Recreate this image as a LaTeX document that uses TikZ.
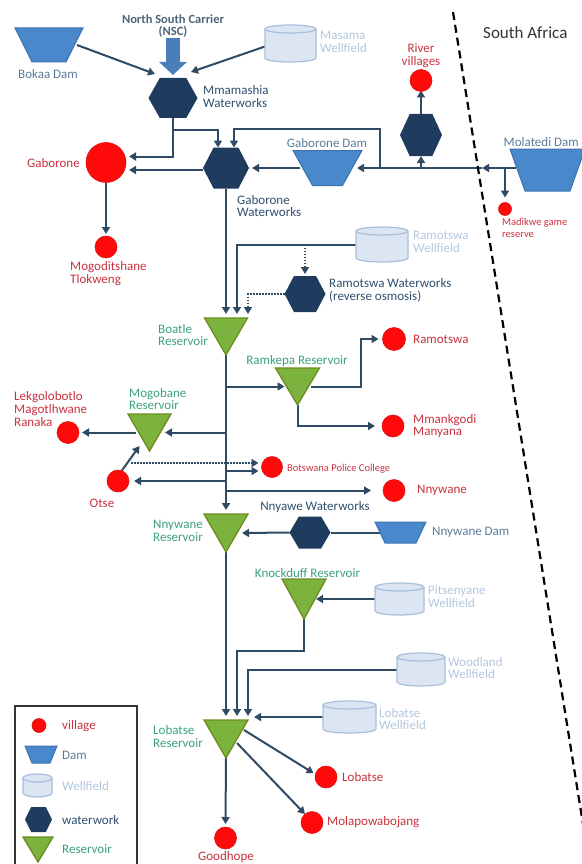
\documentclass[tikz,border=0pt]{standalone}
\usepackage{fontspec}
\setmainfont{Carlito}
\usetikzlibrary{arrows.meta}
\definecolor{vred}{HTML}{FF0A0A}
\definecolor{vredd}{HTML}{E01010}
\definecolor{redtxt}{HTML}{C8323F}
\definecolor{damfill}{HTML}{4A88CC}
\definecolor{damedge}{HTML}{3D72B0}
\definecolor{damtxt}{HTML}{5B7B9A}
\definecolor{wffill}{HTML}{DCE6F2}
\definecolor{wfedge}{HTML}{A7BFDB}
\definecolor{wftxt}{HTML}{B2C6DF}
\definecolor{hexfill}{HTML}{1F3B5E}
\definecolor{wwtxt}{HTML}{2F4F70}
\definecolor{resfill}{HTML}{7BB33E}
\definecolor{resedge}{HTML}{6E8C1E}
\definecolor{restxt}{HTML}{3BA27A}
\definecolor{conncol}{HTML}{2F4A63}
\definecolor{nscblue}{HTML}{4A7EB8}
\definecolor{nsctxt}{HTML}{4E6378}
\definecolor{satxt}{HTML}{333333}
\pgfdeclarelayer{back}
\pgfsetlayers{back,main}
\tikzset{
  ghost/.style={rectangle, inner sep=0pt, outer sep=0pt, draw=none, fill=none},
  village/.style={circle, inner sep=0pt, outer sep=0pt, fill=vred, draw=vredd, line width=0.6pt},
  damsty/.style={fill=damfill, draw=damedge, line width=1pt},
  wfsty/.style={fill=wffill, draw=wfedge, line width=1.2pt},
  hexsty/.style={fill=hexfill},
  ressty/.style={fill=resfill, draw=resedge, line width=1.3pt, line join=miter},
  conn/.style={draw=conncol, line width=2pt, -{Triangle[length=7pt,width=8pt]}},
  pipe/.style={draw=conncol, line width=2pt},
  dotconn/.style={draw=conncol, line width=1.6pt, dash pattern=on 1.5pt off 1.5pt, -{Triangle[length=7pt,width=8pt]}},
  lbl/.style={inner sep=0pt, font=\fontsize{13}{12.8}\selectfont},
  redl/.style={lbl, text=redtxt},
  daml/.style={lbl, text=damtxt},
  wfl/.style={lbl, text=wftxt},
  wwl/.style={lbl, text=wwtxt},
  resl/.style={lbl, text=restxt},
}
\newcommand{\mkdam}[6]{%
  \node[ghost, minimum width=#4pt, minimum height=#6pt] (#1) at (#2,#3) {};
  \pgfmathsetmacro{\dinset}{(#4-#5)/2}%
  \filldraw[damsty] (#1.north west) -- (#1.north east) -- ([xshift=-\dinset pt]#1.south east) -- ([xshift=\dinset pt]#1.south west) -- cycle;}
\newcommand{\mkcyl}[5]{%
  \node[ghost, minimum width=#4pt, minimum height=#5pt] (#1) at (#2,#3) {};
  \pgfmathsetmacro{\crx}{#4/2}%
  \filldraw[wfsty] ([yshift=-4pt]#1.north west) -- ([yshift=4pt]#1.south west) arc[start angle=180, end angle=360, x radius=\crx pt, y radius=4pt] -- ([yshift=-4pt]#1.north east) arc[start angle=0, end angle=180, x radius=\crx pt, y radius=4pt] -- cycle;
  \draw[wfsty, fill=none] ([yshift=-4pt]#1.north east) arc[start angle=0, end angle=-180, x radius=\crx pt, y radius=4pt];}
\newcommand{\mkhex}[5]{%
  \node[ghost, minimum width=#4pt, minimum height=#5pt] (#1) at (#2,#3) {};
  \pgfmathsetmacro{\hq}{#4*0.27}%
  \fill[hexsty] (#1.west) -- ([xshift=-\hq pt]#1.north) -- ([xshift=\hq pt]#1.north) -- (#1.east) -- ([xshift=\hq pt]#1.south) -- ([xshift=-\hq pt]#1.south) -- cycle;}
\newcommand{\mkres}[5]{%
  \node[ghost, minimum width=#4pt, minimum height=#5pt] (#1) at (#2,#3) {};
  \filldraw[ressty] (#1.north west) -- (#1.north east) -- (#1.south) -- cycle;}
\begin{document}
\begin{tikzpicture}[x=1pt,y=-1pt]
\useasboundingbox (0,0) rectangle (581,864);
% ---------- shapes ----------
\mkdam{bokaa}{49}{45}{68}{34}{34}
\mkdam{gdam}{327.5}{168}{69}{30}{35}
\mkdam{mol}{547.5}{170}{75}{45}{42}
\mkdam{nndam}{400.5}{532.5}{51}{31}{21}
\mkcyl{masama}{290.5}{43.5}{51}{37}
\mkcyl{ramwf}{382}{244.5}{52}{35}
\mkcyl{pits}{399.5}{599}{49}{32}
\mkcyl{wood}{421}{669.5}{48}{33}
\mkcyl{lobwf}{349.5}{717}{53}{32}
\mkhex{mmam}{173}{98}{49}{40}
\mkhex{gww}{226}{168}{46}{41}
\mkhex{rvww}{421}{135}{42}{42}
\mkhex{ramww}{305}{294}{41}{36}
\mkhex{nnyww}{310}{532.5}{41}{32}
\mkres{boatle}{226}{336.5}{43}{37}
\mkres{ramkepa}{297.5}{386.5}{44}{37}
\mkres{mogob}{149.5}{432.5}{43}{37}
\mkres{nnyres}{226}{533}{44}{38}
\mkres{knock}{304}{599}{44}{40}
\mkres{lobres}{226}{739}{44}{38}
% villages
\node[village, minimum size=40pt] (gab) at (106,162.5) {};
\node[village, minimum size=22pt] (mogo) at (106,247) {};
\node[village, minimum size=22pt] (river) at (421,80.5) {};
\node[village, minimum size=13pt] (madik) at (505,209) {};
\node[village, minimum size=23pt] (ramot) at (394,339) {};
\node[village, minimum size=22pt] (mmank) at (393,426) {};
\node[village, minimum size=22pt] (lekgo) at (68,432.5) {};
\node[village, minimum size=22pt] (otse) at (118,481) {};
\node[village, minimum size=21pt] (bpc) at (272,467) {};
\node[village, minimum size=22pt] (nnyw) at (394,490.5) {};
\node[village, minimum size=22pt] (goodh) at (225.5,838) {};
\node[village, minimum size=22pt] (lobat) at (326,777) {};
\node[village, minimum size=22pt] (molap) at (312,822.5) {};
% ---------- labels ----------
\node[lbl, font=\bfseries\fontsize{12.5}{12.5}\selectfont, text=nsctxt, align=center] (nscl) at (173,26) {North South Carrier\\(NSC)};
\node[anchor=west, font=\fontsize{17}{17}\selectfont, text=satxt, inner sep=0pt] (sa) at (483,33) {South Africa};
\node[redl, anchor=east] (gabl) at (80,163) {Gaborone};
\node[redl, anchor=west, align=left] (mogol) at (70,274) {Mogoditshane\\Tlokweng};
\node[redl, align=center] (riverl) at (421,56) {River\\villages};
\node[redl, anchor=west, align=left, font=\fontsize{10.5}{11.5}\selectfont] (madikl) at (502,228) {Madikwe game\\reserve};
\node[redl, anchor=west] (ramotl) at (413,339) {Ramotswa};
\node[redl, anchor=west, align=left] (mmankl) at (413,426) {Mmankgodi\\Manyana};
\node[redl, anchor=west, align=left] (lekgol) at (14,409) {Lekgolobotlo\\Magotlhwane\\Ranaka};
\node[redl] (otsel) at (102,503) {Otse};
\node[redl, anchor=west, font=\fontsize{10.5}{11.5}\selectfont] (bpcl) at (287,469) {Botswana Police College};
\node[redl, anchor=west] (nnywl) at (417,490) {Nnywane};
\node[redl] (goodhl) at (226,857) {Goodhope};
\node[redl, anchor=west] (lobatl) at (342,777) {Lobatse};
\node[redl, anchor=west] (molapl) at (327,822) {Molapowabojang};
\node[daml] (bokaal) at (48,74) {Bokaa Dam};
\node[daml] (gdaml) at (327,143) {Gaborone Dam};
\node[daml, anchor=east] (moll) at (579,142) {Molatedi Dam};
\node[daml, anchor=west] (nndaml) at (432,532) {Nnywane Dam};
\node[wfl, anchor=west, align=left] (masamal) at (320,42) {Masama\\Wellfield};
\node[wfl, anchor=west, align=left] (ramwfl) at (413,241.5) {Ramotswa\\Wellfield};
\node[wfl, anchor=west, align=left] (pitsl) at (428,596.5) {Pitsenyane\\Wellfield};
\node[wfl, anchor=west, align=left] (woodl) at (448,668) {Woodland\\Wellfield};
\node[wfl, anchor=west, align=left] (lobwfl) at (379,719) {Lobatse\\Wellfield};
\node[wwl, anchor=west, align=left] (mmaml) at (203,96.5) {Mmamashia\\Waterworks};
\node[wwl, anchor=west, align=left] (gwwl) at (237,206) {Gaborone\\Waterworks};
\node[wwl, anchor=west, align=left] (ramwwl) at (329,290.5) {Ramotswa Waterworks\\(reverse osmosis)};
\node[wwl] (nnywwl) at (315,507) {Nnyawe Waterworks};
\node[resl, anchor=west, align=left] (boatlel) at (158,335) {Boatle\\Reservoir};
\node[resl] (ramkepal) at (297,361) {Ramkepa Reservoir};
\node[resl, anchor=west, align=left] (mogobl) at (129,399) {Mogobane\\Reservoir};
\node[resl, anchor=west, align=left] (nnyresl) at (153,531) {Nnywane\\Reservoir};
\node[resl] (knockl) at (307.5,573) {Knockduff Reservoir};
\node[resl, anchor=west, align=left] (lobresl) at (153,736.5) {Lobatse\\Reservoir};
% ---------- legend ----------
\node[ghost, draw=satxt, line width=1.2pt, minimum width=122pt, minimum height=170pt, anchor=north west] (legend) at (15,706) {};
\node[village, minimum size=14pt] (lgv) at (39,725.5) {};
\mkdam{lgdam}{41}{754.5}{32}{18}{17}
\mkcyl{lgwf}{37.5}{785.5}{29}{23}
\mkhex{lgww}{38.5}{819.5}{27}{25}
\mkres{lgres}{38}{849.5}{30}{25}
\node[redl, anchor=west] (lgvl) at (62,726) {village};
\node[daml, anchor=west] (lgdaml) at (62,755) {Dam};
\node[wfl, anchor=west] (lgwfl) at (62,786) {Wellfield};
\node[wwl, anchor=west] (lgwwl) at (62,820) {waterwork};
\node[resl, anchor=west] (lgresl) at (62,849) {Reservoir};
% ---------- border ----------
\coordinate (bt) at (453,12);
\coordinate (bb) at (590,868);
\draw[line width=2.2pt, dash pattern=on 8pt off 5pt] (bt) -- (bb);
% ---------- connectors ----------
\begin{pgfonlayer}{back}
\draw[nscblue, line width=14pt, -{Triangle[length=13pt,width=27pt]}] (nscl.south) -- ([yshift=3pt]mmam.north);
\draw[conn] ([xshift=-6pt]bokaa.east) -- ([xshift=-18pt,yshift=4pt]mmam.north);
\draw[conn] ([yshift=-3pt]masama.west) -- ([xshift=18pt,yshift=6pt]mmam.north);
\draw[conn] (mmam.south) |- ([xshift=3pt,yshift=6pt]gab.east);
\draw[conn] ([yshift=-12pt]mmam.south) -| ([xshift=-8pt]gww.north);
\draw[conn] ([yshift=-2pt]gww.west) -- ([xshift=3pt,yshift=-2pt]gab.east |- gww.west);
\draw[conn] (gab.south) -- ([yshift=2pt]mogo.north);
\draw[conn] ([xshift=7pt]gdam.west) -- ([xshift=3pt]gww.east);
\coordinate (bx) at (482,168);
\draw[conn] ([xshift=6pt,yshift=2pt]mol.west) -- (bx);
\draw[conn] (bx) -- ([xshift=-5pt]gdam.east);
\draw[conn] (madik.north |- bx) -- ([yshift=5pt]madik.north);
\draw[conn] (rvww.south |- bx) -- (rvww.south);
\draw[conn] (rvww.north) -- ([yshift=1pt]river.south);
\coordinate (lp) at (380,129);
\draw[conn] (lp |- bx) -- (lp) -| ([xshift=8pt]gww.north);
\draw[conn] (gww.south) -- ([yshift=4pt]boatle.north);
\draw[conn] (ramwf.west) -| ([xshift=11pt,yshift=4pt]boatle.north);
\draw[dotconn] (ramww.north |- ramwf.west) -- ([yshift=2pt]ramww.north);
\draw[dotconn] (ramww.west) -| ([xshift=22pt,yshift=4pt]boatle.north);
\draw[conn] (boatle.south) -- ([yshift=4pt]nnyres.north);
\draw[conn] (boatle.south |- ramkepa.west) -- ([xshift=9pt]ramkepa.west);
\draw[conn] (boatle.south |- mogob.east) -- ([xshift=-6pt]mogob.east);
\coordinate (bpcin) at ([xshift=-3pt,yshift=-4pt]bpc.west);
\draw[conn] (boatle.south |- bpcin) -- (bpcin);
\draw[conn] (boatle.south |- otse.east) -- ([xshift=5pt]otse.east);
\draw[conn] (boatle.south |- nnyw.west) -- ([xshift=-12pt]nnyw.west);
\draw[conn] ([xshift=-9pt]ramkepa.east) -- ++(50,0) |- ([xshift=-4pt]ramot.west);
\draw[conn] (ramkepa.south) |- ([xshift=-7pt]mmank.west);
\draw[conn] ([xshift=8pt]mogob.west) -- ([xshift=3pt]lekgo.east);
\draw[conn] (otse.70) -- ([xshift=-10pt,yshift=5pt]mogob.south);
\coordinate (dots) at (131,463);
\draw[dotconn] (dots) -- ([xshift=-3pt,yshift=4pt]bpc.west);
\draw[conn] (nnyww.west) -- ([xshift=-6pt]nnyres.east);
\draw[pipe] ([xshift=6pt]nndam.west) -- (nnyww.east);
\draw[conn] (nnyres.south) -- ([yshift=4pt]lobres.north);
\draw[conn] (pits.west) -- ([xshift=-10pt]knock.east);
\draw[conn] (knock.south) -- ++(0,32) -| ([xshift=11pt,yshift=4pt]lobres.north);
\draw[conn] (wood.west) -| ([xshift=22pt,yshift=4pt]lobres.north);
\draw[conn] (lobwf.west) -- ([xshift=6pt,yshift=3pt]lobres.north east);
\draw[conn] (lobres.south) -- ([yshift=3pt]goodh.north);
\draw[conn] ([xshift=18pt,yshift=9pt]lobres.center) -- ([xshift=-2pt]lobat.160);
\draw[conn] ([xshift=11pt,yshift=-4pt]lobres.center) -- (molap.130);
\end{pgfonlayer}
\end{tikzpicture}
\end{document}
